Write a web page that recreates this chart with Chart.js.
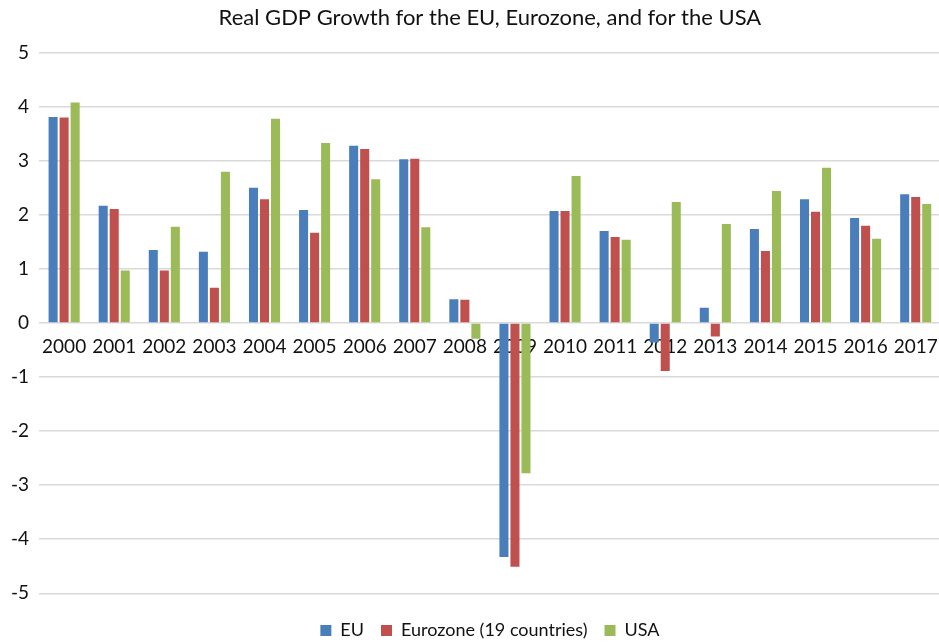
<!DOCTYPE html>
<html>
<head>
<meta charset="utf-8">
<script src="https://cdn.jsdelivr.net/npm/chart.js@4/dist/chart.umd.min.js"></script>
<style>
  html, body { margin: 0; padding: 0; background: #fff; overflow: hidden; }
  #wrap { position: relative; width: 950px; height: 642px; }
</style>
</head>
<body>
<div id="wrap"><canvas id="c"></canvas></div>
<script>
const years = ["2000","2001","2002","2003","2004","2005","2006","2007","2008","2009",
               "2010","2011","2012","2013","2014","2015","2016","2017"]
const eu  = [3.81, 2.17, 1.35, 1.32, 2.50, 2.09, 3.28, 3.03, 0.44, -4.33, 2.07, 1.70, -0.36, 0.28, 1.74, 2.29, 1.94, 2.38]
const ez  = [3.80, 2.11, 0.97, 0.65, 2.29, 1.67, 3.22, 3.04, 0.43, -4.51, 2.07, 1.59, -0.89, -0.25, 1.33, 2.06, 1.80, 2.33]
const usa = [4.08, 0.97, 1.78, 2.80, 3.78, 3.33, 2.66, 1.77, -0.29, -2.78, 2.72, 1.54, 2.24, 1.83, 2.44, 2.87, 1.56, 2.20]
const seriesNames = ["EU", "Eurozone (19 countries)", "USA"]
const colors = ["#4a7ebb", "#c0504d", "#9bbb59"]

const font = "Lato, 'Open Sans', sans-serif"

new Chart(document.getElementById("c"), {
  type: "bar",
  data: {
    labels: years,
    datasets: [eu, ez, usa].map((d, i) => ({
      label: seriesNames[i],
      data: d,
      backgroundColor: colors[i],
      borderWidth: 0,
      categoryPercentage: 0.66,
      barPercentage: 0.82
    }))
  },
  options: {
    responsive: true,
    maintainAspectRatio: false,
    animation: false,
    layout: { padding: { left: 1, right: 2, top: 0, bottom: -7.5 } },
    plugins: {
      title: {
        display: true,
        fullSize: false,
        text: "Real GDP Growth for the EU, Eurozone, and for the USA",
        color: "#111",
        font: { family: font, size: 22, weight: "normal" },
        padding: { top: 4.8, bottom: 21.5 }
      },
      legend: {
        position: "bottom",
        fullSize: false,
        title: { display: true, text: "", font: { size: 1 }, padding: { top: 10, bottom: 0 } },
        labels: {
          color: "#111",
          font: { family: font, size: 18 },
          boxWidth: 11,
          boxHeight: 11,
          padding: 17
        }
      },
      tooltip: { enabled: false }
    },
    scales: {
      x: {
        position: { y: 0 },
        grid: { display: false, drawTicks: false },
        border: { display: false },
        ticks: { color: "#111", font: { family: font, size: 19 }, padding: 12, maxRotation: 0, autoSkip: false }
      },
      y: {
        min: -5,
        max: 5,
        grid: { color: "#d9d9d9", lineWidth: 1.5, drawTicks: false },
        border: { display: false },
        ticks: { stepSize: 1, color: "#111", font: { family: font, size: 19 }, padding: 10 }
      }
    }
  }
})
</script>
</body>
</html>
